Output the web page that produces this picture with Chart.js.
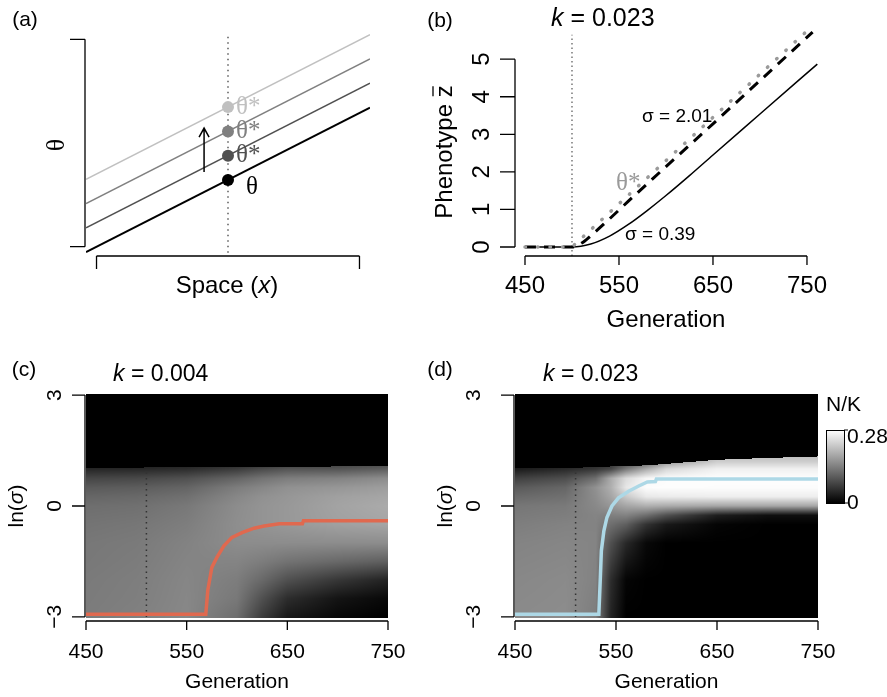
<!DOCTYPE html>
<html>
<head>
<meta charset="utf-8">
<script src="https://cdn.jsdelivr.net/npm/chart.js@4.4.1/dist/chart.umd.min.js"></script>
<style>
  body { margin: 0; background: #fff; }
  #figure { position: relative; width: 887px; height: 697px; }
  #figure canvas { position: absolute; left: 0; top: 0; }
</style>
</head>
<body>
<div id="figure">
  <canvas id="panelA" width="887" height="697"></canvas>
  <canvas id="panelB" width="887" height="697"></canvas>
  <canvas id="panelC" width="887" height="697"></canvas>
  <canvas id="panelD" width="887" height="697"></canvas>
</div>
<script>
// ---- (a) optimum shifting in space ----
const spaceX = [-0.04, 1.04];
const thetaLines = [[-0.026, 0.671], [0.091, 0.788], [0.208, 0.905], [0.325, 1.022]];
const thetaShades = ['#000000', '#505050', '#808080', '#c0c0c0'];
const focalX = 0.5;
const focalTheta = [0.322, 0.439, 0.556, 0.673];
const focalLabels = ['θ', 'θ*', 'θ*', 'θ*'];
const spaceTicks = [0, 1];

// ---- (b) mean phenotype, k = 0.023 ----
const genOpt = [450, 500, 756];
const thetaOpt = [0, 0, 5.89];
const genHigh = [450, 500, 510, 520, 540, 560, 580, 600, 650, 700, 756];
const zHigh = [0, 0, 0.1, 0.3, 0.75, 1.22, 1.68, 2.14, 3.28, 4.43, 5.72];
const genLow = [450, 500, 520, 540, 560, 580, 600, 625, 650, 700, 761];
const zLow = [0, 0, 0.08, 0.29, 0.6, 0.97, 1.37, 1.9, 2.45, 3.54, 4.87];
const genTicks = [450, 550, 650, 750];
const zTicks = [0, 1, 2, 3, 4, 5];
const shiftStart = 500;

// ---- (c) density over ln(sigma), k = 0.004 ----
const heatGenC = [450, 500, 550, 600, 625, 650, 700, 750];
const heatLnSigmaC = [-3, -2.5, -2, -1.5, -1, -0.5, 0, 0.25, 0.5, 0.75, 1.0, 1.1];
const densityC = [
  [0.136, 0.141, 0.149, 0.121, 0.066, 0.027, 0.009, 0.000],
  [0.135, 0.139, 0.148, 0.132, 0.088, 0.049, 0.022, 0.009],
  [0.134, 0.138, 0.147, 0.137, 0.115, 0.088, 0.060, 0.038],
  [0.132, 0.136, 0.145, 0.145, 0.137, 0.126, 0.115, 0.104],
  [0.131, 0.134, 0.143, 0.154, 0.154, 0.154, 0.154, 0.154],
  [0.127, 0.130, 0.138, 0.156, 0.162, 0.167, 0.176, 0.181],
  [0.121, 0.123, 0.132, 0.154, 0.162, 0.167, 0.179, 0.187],
  [0.112, 0.115, 0.123, 0.148, 0.159, 0.165, 0.176, 0.182],
  [0.099, 0.102, 0.110, 0.137, 0.148, 0.159, 0.165, 0.173],
  [0.076, 0.079, 0.088, 0.110, 0.126, 0.137, 0.143, 0.154],
  [0.042, 0.044, 0.049, 0.066, 0.082, 0.093, 0.093, 0.104],
  [0.033, 0.033, 0.038, 0.049, 0.060, 0.071, 0.077, 0.088]
];
const edgeC = [1.04, 1.04, 1.05, 1.05, 1.06, 1.06, 1.07, 1.08];
const modeGenC = [450, 569, 571, 575, 580, 587, 595, 605, 617, 627, 642, 665, 666, 750];
const modeLnSigmaC = [-2.93, -2.93, -2.28, -1.66, -1.39, -1.08, -0.85, -0.72, -0.60, -0.54, -0.48, -0.48, -0.40, -0.40];

// ---- (d) density over ln(sigma), k = 0.023 ----
const heatGenD = [450, 500, 530, 545, 560, 580, 600, 650, 700, 750];
const heatLnSigmaD = [-3, -2, -1, -0.5, -0.25, 0, 0.25, 0.5, 0.75, 1.0, 1.2, 1.35];
const densityD = [
  [0.152, 0.154, 0.137, 0.038, 0.000, 0.000, 0.000, 0.000, 0.000, 0.000],
  [0.149, 0.152, 0.143, 0.049, 0.005, 0.000, 0.000, 0.000, 0.000, 0.000],
  [0.144, 0.147, 0.145, 0.088, 0.044, 0.009, 0.000, 0.000, 0.000, 0.000],
  [0.138, 0.143, 0.144, 0.121, 0.104, 0.055, 0.027, 0.005, 0.000, 0.000],
  [0.134, 0.138, 0.145, 0.140, 0.143, 0.121, 0.088, 0.033, 0.016, 0.016],
  [0.130, 0.134, 0.150, 0.165, 0.181, 0.192, 0.187, 0.181, 0.181, 0.181],
  [0.116, 0.123, 0.155, 0.181, 0.220, 0.255, 0.258, 0.261, 0.261, 0.261],
  [0.099, 0.112, 0.159, 0.192, 0.253, 0.277, 0.278, 0.277, 0.277, 0.277],
  [0.070, 0.085, 0.121, 0.187, 0.240, 0.270, 0.277, 0.278, 0.278, 0.278],
  [0.029, 0.045, 0.060, 0.077, 0.132, 0.187, 0.236, 0.264, 0.264, 0.264],
  [0.022, 0.024, 0.038, 0.044, 0.066, 0.099, 0.165, 0.225, 0.225, 0.225],
  [0.016, 0.016, 0.027, 0.030, 0.044, 0.066, 0.110, 0.209, 0.209, 0.209]
];
const edgeD = [1.03, 1.03, 1.05, 1.07, 1.08, 1.10, 1.14, 1.25, 1.30, 1.34];
const modeGenD = [450, 533, 534.5, 535.5, 538, 541, 546, 552.5, 562.5, 572.5, 581, 589, 590, 750];
const modeLnSigmaD = [-2.93, -2.93, -1.93, -1.21, -0.67, -0.31, 0.0, 0.22, 0.40, 0.54, 0.65, 0.66, 0.73, 0.73];

const lnSigmaTicks = [-3, 0, 3];
const lnSigmaLabels = ['\u22123', '0', '3'];
const changeGen = 510;
const densityMax = 0.28;
const barTicks = [0, 0.28];
const barLabels = ['0', '0.28'];

const W = 887, H = 697;
const SANS = '"Liberation Sans", Arial, Helvetica, sans-serif';
const SERIF = '"Liberation Serif", "DejaVu Serif", serif';

const pts = (xs, ys) => xs.map((v, i) => ({ x: v, y: ys[i] }));

function line(data, color, width, extra) {
  return Object.assign({ data, showLine: true, borderColor: color, borderWidth: width,
    pointRadius: 0, tension: 0, fill: false }, extra || {});
}

function baseOptions(box, xr, yr) {
  return {
    responsive: false, animation: false, events: [],
    layout: { padding: { left: box[0], top: box[1], right: W - box[2], bottom: H - box[3] } },
    plugins: { legend: { display: false }, tooltip: { enabled: false } },
    scales: {
      x: { type: 'linear', min: xr[0], max: xr[1], display: false },
      y: { type: 'linear', min: yr[0], max: yr[1], display: false }
    }
  };
}

// draw text made of runs with different fonts, anchored at its centre or left
function textRuns(ctx, runs, x, y, align) {
  let total = 0;
  runs.forEach(r => { ctx.font = r[1]; total += ctx.measureText(r[0]).width; });
  let cx = align === 'center' ? x - total / 2 : x;
  ctx.textAlign = 'left';
  ctx.textBaseline = 'middle';
  runs.forEach(r => { ctx.font = r[1]; ctx.fillText(r[0], cx, y); cx += ctx.measureText(r[0]).width; });
  return { left: align === 'center' ? x - total / 2 : x, width: total };
}

function xAxis(chart, ticks, o) {
  const { ctx, scales: { x } } = chart;
  const p = ticks.map(t => x.getPixelForValue(t));
  ctx.save();
  ctx.strokeStyle = '#000';
  ctx.lineWidth = o.lw || 1.3;
  ctx.beginPath();
  ctx.moveTo(p[0], o.at); ctx.lineTo(p[p.length - 1], o.at);
  p.forEach(px => { ctx.moveTo(px, o.at); ctx.lineTo(px, o.at + o.tick); });
  ctx.stroke();
  if (o.labels) {
    ctx.fillStyle = '#000';
    ctx.font = o.font;
    ctx.textAlign = 'center';
    ctx.textBaseline = 'middle';
    p.forEach((px, i) => ctx.fillText(o.labels[i], px, o.labelAt));
  }
  ctx.restore();
}

function yAxis(chart, ticks, o) {
  const { ctx, scales: { y } } = chart;
  const p = ticks.map(t => y.getPixelForValue(t));
  ctx.save();
  ctx.strokeStyle = '#000';
  ctx.lineWidth = o.lw || 1.3;
  ctx.beginPath();
  ctx.moveTo(o.at, p[0]); ctx.lineTo(o.at, p[p.length - 1]);
  p.forEach(py => { ctx.moveTo(o.at, py); ctx.lineTo(o.at - o.tick, py); });
  ctx.stroke();
  if (o.labels) {
    ctx.fillStyle = '#000';
    ctx.font = o.font;
    ctx.textAlign = 'center';
    ctx.textBaseline = 'middle';
    p.forEach((py, i) => {
      ctx.save();
      ctx.translate(o.labelAt, py);
      ctx.rotate(-Math.PI / 2);
      ctx.fillText(o.labels[i], 0, 0);
      ctx.restore();
    });
  }
  ctx.restore();
}

function rotatedRuns(ctx, runs, x, y) {
  ctx.save();
  ctx.translate(x, y);
  ctx.rotate(-Math.PI / 2);
  const r = textRuns(ctx, runs, 0, 0, 'center');
  ctx.restore();
  return r;
}

function panelTag(ctx, tag, x, y) {
  ctx.save();
  ctx.fillStyle = '#000';
  ctx.font = '21px ' + SANS;
  ctx.textAlign = 'center';
  ctx.textBaseline = 'middle';
  ctx.fillText(tag, x, y);
  ctx.restore();
}

function kTitle(ctx, value, x, y, size) {
  ctx.save();
  ctx.fillStyle = '#000';
  textRuns(ctx, [['k', 'italic ' + size + 'px ' + SANS], [' = ' + value, size + 'px ' + SANS]], x, y, 'left');
  ctx.restore();
}

// bilinear lookup on an irregular grid
function locate(arr, v) {
  if (v <= arr[0]) return [0, 0];
  for (let i = 0; i < arr.length - 1; i++) {
    if (v <= arr[i + 1]) return [i, (v - arr[i]) / (arr[i + 1] - arr[i])];
  }
  return [arr.length - 2, 1];
}

function heatPlugin(gens, rows, grid, edge) {
  return {
    id: 'heat',
    beforeDatasetsDraw(chart) {
      const { ctx, chartArea: a, scales: { x, y } } = chart;
      const left = Math.round(a.left), top = Math.round(a.top);
      const w = Math.round(a.right) - left, h = Math.round(a.bottom) - top;
      const img = ctx.createImageData(w, h);
      for (let j = 0; j < h; j++) {
        const s = y.getValueForPixel(top + j + 0.5);
        const [r, u] = locate(rows, s);
        for (let i = 0; i < w; i++) {
          const g = x.getValueForPixel(left + i + 0.5);
          const [c, t] = locate(gens, g);
          const cut = edge[c] + (edge[c + 1] - edge[c]) * t;
          let v = 0;
          if (s <= cut) {
            const v0 = grid[r][c] + (grid[r][c + 1] - grid[r][c]) * t;
            const v1 = grid[r + 1][c] + (grid[r + 1][c + 1] - grid[r + 1][c]) * t;
            v = v0 + (v1 - v0) * u;
          }
          const k = Math.round(255 * Math.max(0, Math.min(1, v / densityMax)));
          const o = (j * w + i) * 4;
          img.data[o] = k; img.data[o + 1] = k; img.data[o + 2] = k; img.data[o + 3] = 255;
        }
      }
      ctx.putImageData(img, left, top);
    }
  };
}

// ---------------- panel (a) ----------------
const optsA = baseOptions([86, 31, 370, 255], [-0.04, 1.04], [-0.04, 1.04]);
new Chart(document.getElementById('panelA'), {
  type: 'scatter',
  data: {
    datasets: [
      { data: focalTheta.map(v => ({ x: focalX, y: v })), pointRadius: 6, pointBorderWidth: 0,
        pointBackgroundColor: thetaShades, order: 0 },
      ...thetaLines.map((l, i) => line(pts(spaceX, l), thetaShades[i], i === 0 ? 2 : 1.5, { order: 1 })),
      line(pts([focalX, focalX], [-0.029, 1.019]), '#333', 1.2, { borderDash: [1.5, 4], order: 2 })
    ]
  },
  options: optsA,
  plugins: [{
    id: 'panelAExtras',
    afterDraw(chart) {
      const { ctx, scales: { x, y } } = chart;
      // bracket-style axes without labels
      xAxis(chart, spaceTicks, { at: 256, tick: 13 });
      yAxis(chart, spaceTicks, { at: 85, tick: 15 });
      ctx.save();
      ctx.fillStyle = '#000';
      textRuns(ctx, [['Space (', '24px ' + SANS], ['x', 'italic 24px ' + SANS], [')', '24px ' + SANS]], 227, 286, 'center');
      rotatedRuns(ctx, [['θ', '26px ' + SERIF]], 57, 145);
      // labels beside the optima
      const px = x.getPixelForValue(focalX);
      focalTheta.forEach((v, i) => {
        const py = y.getPixelForValue(v);
        ctx.fillStyle = thetaShades[i];
        ctx.font = '25px ' + SERIF;
        ctx.textAlign = 'left';
        ctx.textBaseline = 'middle';
        if (i === 0) ctx.fillText(focalLabels[i], px + 18, py + 8);
        else ctx.fillText(focalLabels[i], px + 8, py);
      });
      // arrow showing the upward shift
      const ax = x.getPixelForValue(0.409);
      const y0 = y.getPixelForValue(0.36), y1 = y.getPixelForValue(0.572);
      ctx.strokeStyle = '#000';
      ctx.lineWidth = 1.5;
      ctx.beginPath();
      ctx.moveTo(ax, y0); ctx.lineTo(ax, y1);
      ctx.moveTo(ax - 5, y1 + 9); ctx.lineTo(ax, y1); ctx.lineTo(ax + 5, y1 + 9);
      ctx.stroke();
      ctx.restore();
      panelTag(ctx, '(a)', 25, 20);
    }
  }]
});

// ---------------- panel (b) ----------------
const optsB = baseOptions([514, 22, 830, 256], [438.3, 774.5], [-0.24, 5.99]);
const smooth = { cubicInterpolationMode: 'monotone' };
new Chart(document.getElementById('panelB'), {
  type: 'scatter',
  data: {
    datasets: [
      line(pts(genOpt, thetaOpt), '#9a9a9a', 3.5, { borderDash: [0.5, 12], borderCapStyle: 'round', order: 0 }),
      line(pts(genHigh, zHigh), '#000', 3, Object.assign({ borderDash: [11, 8], order: 1 }, smooth)),
      line(pts(genLow, zLow), '#000', 1.5, Object.assign({ order: 2 }, smooth)),
      line(pts([shiftStart, shiftStart], [-0.24, 5.65]), '#555', 1.2, { borderDash: [1.5, 3], order: 3 })
    ]
  },
  options: optsB,
  plugins: [{
    id: 'panelBExtras',
    afterDraw(chart) {
      const { ctx, scales: { x } } = chart;
      xAxis(chart, genTicks, { at: 256, tick: 9, labels: genTicks.map(String), labelAt: 286, font: '24px ' + SANS });
      yAxis(chart, zTicks, { at: 515, tick: 15, labels: zTicks.map(String), labelAt: 482, font: '24px ' + SANS });
      ctx.save();
      ctx.fillStyle = '#000';
      ctx.font = '24px ' + SANS;
      ctx.textAlign = 'center';
      ctx.textBaseline = 'middle';
      ctx.fillText('Generation', (x.getPixelForValue(450) + x.getPixelForValue(750)) / 2, 320);
      // y title with an overlined z
      ctx.translate(445, 152);
      ctx.rotate(-Math.PI / 2);
      const r = textRuns(ctx, [['Phenotype ', '24px ' + SANS], ['z', '24px ' + SANS]], 0, 0, 'center');
      ctx.font = '24px ' + SANS;
      const zw = ctx.measureText('z').width;
      ctx.lineWidth = 1.3;
      ctx.strokeStyle = '#000';
      ctx.beginPath();
      ctx.moveTo(r.left + r.width - zw + 1, -12);
      ctx.lineTo(r.left + r.width - 1, -12);
      ctx.stroke();
      ctx.restore();

      ctx.save();
      ctx.fillStyle = '#000';
      textRuns(ctx, [['σ = 2.01', '19px ' + SANS]], 642, 117, 'left');
      textRuns(ctx, [['σ = 0.39', '19px ' + SANS]], 625, 235, 'left');
      ctx.fillStyle = '#9a9a9a';
      textRuns(ctx, [['θ*', '25px ' + SERIF]], 616, 183, 'left');
      ctx.restore();
      kTitle(ctx, '0.023', 551, 19, 25);
      panelTag(ctx, '(b)', 440, 21);
    }
  }]
});

// ---------------- panels (c) and (d) ----------------
function heatPanel(id, box, gens, rows, grid, edge, modeGen, modeLn, modeColor, extras) {
  const opts = baseOptions(box, [450, 750], [-3.03, 3.03]);
  new Chart(document.getElementById(id), {
    type: 'scatter',
    data: {
      datasets: [
        line(pts(modeGen, modeLn), modeColor, 3.5, { order: 0 }),
        line(pts([changeGen, changeGen], [-3, 0.92]), '#333', 1.5, { borderDash: [1.5, 4], order: 1 })
      ]
    },
    options: opts,
    plugins: [heatPlugin(gens, rows, grid, edge), { id: id + 'Extras', afterDraw: extras }]
  });
}

function heatAxes(chart, yAt, yLabelAt, titleX) {
  const { ctx, scales: { x, y } } = chart;
  xAxis(chart, genTicks, { at: 621, tick: 9, labels: genTicks.map(String), labelAt: 652, font: '21px ' + SANS });
  yAxis(chart, lnSigmaTicks, { at: yAt, tick: 13, labels: lnSigmaLabels, labelAt: yLabelAt, font: '21px ' + SANS });
  ctx.save();
  ctx.fillStyle = '#000';
  ctx.font = '21px ' + SANS;
  ctx.textAlign = 'center';
  ctx.textBaseline = 'middle';
  ctx.fillText('Generation', (x.getPixelForValue(450) + x.getPixelForValue(750)) / 2, 682);
  rotatedRuns(ctx, [['ln(', '21px ' + SANS], ['σ', 'italic 21px ' + SANS], [')', '21px ' + SANS]],
    titleX, y.getPixelForValue(0));
  ctx.restore();
}

heatPanel('panelC', [86, 394, 388, 618], heatGenC, heatLnSigmaC, densityC, edgeC,
  modeGenC, modeLnSigmaC, '#e0694f', function (chart) {
    heatAxes(chart, 85, 55, 17);
    kTitle(chart.ctx, '0.004', 113, 375, 23);
    panelTag(chart.ctx, '(c)', 24, 370);
  });

heatPanel('panelD', [515, 394, 818, 618], heatGenD, heatLnSigmaD, densityD, edgeD,
  modeGenD, modeLnSigmaD, '#add8e6', function (chart) {
    const ctx = chart.ctx;
    heatAxes(chart, 514, 474, 446);
    kTitle(ctx, '0.023', 543, 375, 23);
    panelTag(ctx, '(d)', 440, 370);
    // colour key for N/K
    const bx = 826, bw = 18, bTop = 430, bBottom = 503;
    const pos = v => bBottom - (v / densityMax) * (bBottom - bTop);
    ctx.save();
    const grad = ctx.createLinearGradient(0, bBottom, 0, bTop);
    grad.addColorStop(0, '#000');
    grad.addColorStop(1, '#fff');
    ctx.fillStyle = grad;
    ctx.fillRect(bx, bTop, bw, bBottom - bTop);
    ctx.strokeStyle = '#000';
    ctx.lineWidth = 1;
    ctx.strokeRect(bx + 0.5, bTop + 0.5, bw, bBottom - bTop);
    ctx.beginPath();
    barTicks.forEach(v => { ctx.moveTo(bx + bw, pos(v)); ctx.lineTo(bx + bw + 4, pos(v)); });
    ctx.stroke();
    ctx.fillStyle = '#000';
    ctx.font = '21px ' + SANS;
    ctx.textAlign = 'left';
    ctx.textBaseline = 'middle';
    barTicks.forEach((v, i) => ctx.fillText(barLabels[i], bx + bw + 3, pos(v) + (i === 0 ? 0 : 7)));
    ctx.fillText('N/K', bx, 405);
    ctx.restore();
  });
</script>
</body>
</html>
